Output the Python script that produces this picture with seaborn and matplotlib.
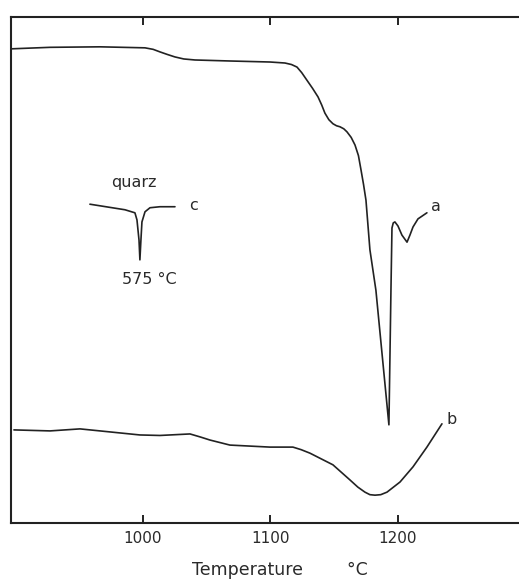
"""
DTA traces (hand-drawn style): curve a, curve b and the quartz reference c.
Saves out.png at 519x579 px.
"""

import matplotlib
matplotlib.use('Agg')
import matplotlib.pyplot as plt
import seaborn as sns
import pandas as pd

# ===== Data (temperature in °C, deflection in arbitrary units 0-100) =====
temp_a = [896.5, 927.1, 966.3, 1001.6, 1008.0, 1013.3, 1019.0, 1025.1, 1032.0,
          1040.8, 1068.2, 1099.6, 1111.4, 1116.5, 1120.8, 1124.5, 1128.6,
          1133.0, 1137.3, 1140.2, 1142.7, 1145.8, 1149.0, 1151.8, 1154.5,
          1157.5, 1160.0, 1163.3, 1166.3, 1169.0, 1171.0, 1173.0, 1174.9,
          1178.0, 1182.7, 1192.9, 1194.5, 1195.3, 1196.3, 1197.6, 1200.0,
          1203.1, 1207.1, 1209.4, 1211.8, 1215.7, 1222.7]
dta_a = [93.7, 94.0, 94.1, 93.9, 93.6, 93.1, 92.6, 92.1, 91.7,
         91.5, 91.3, 91.1, 90.9, 90.6, 90.1, 89.0, 87.5,
         85.9, 84.2, 82.6, 81.0, 79.7, 78.9, 78.5, 78.3,
         77.9, 77.3, 76.2, 74.7, 72.6, 69.8, 66.9, 63.8,
         54.0, 46.0, 19.4, 46.0, 58.3, 59.3, 59.5, 58.7,
         56.9, 55.5, 56.9, 58.5, 60.1, 61.3]

temp_b = [898.8, 927.1, 950.6, 966.3, 997.6, 1013.3, 1036.9, 1045.0, 1052.5,
          1068.2, 1099.6, 1117.6, 1124.0, 1131.0, 1149.0, 1162.4, 1168.5,
          1174.1, 1178.0, 1182.0, 1186.5, 1191.4, 1201.6, 1211.8, 1222.7,
          1234.5]
dta_b = [18.4, 18.2, 18.6, 18.2, 17.4, 17.3, 17.6, 17.0, 16.4,
         15.4, 15.0, 15.0, 14.5, 13.8, 11.5, 8.5, 7.1,
         6.1, 5.6, 5.5, 5.6, 6.1, 8.1, 11.1, 15.0,
         19.6]

# quartz inversion trace, drawn as an inset on the same scale
temp_c = [958.4, 985.9, 993.7, 995.3, 996.9, 997.6, 998.4, 999.2, 1001.6,
          1005.5, 1013.3, 1025.1]
dta_c = [63.0, 61.9, 61.3, 59.9, 55.9, 52.0, 55.9, 59.5, 61.5,
         62.3, 62.5, 62.5]

x_ticks = [1000, 1100, 1200]

curves = pd.concat([
    pd.DataFrame({'T': temp_a, 'dta': dta_a, 'curve': 'a'}),
    pd.DataFrame({'T': temp_b, 'dta': dta_b, 'curve': 'b'}),
    pd.DataFrame({'T': temp_c, 'dta': dta_c, 'curve': 'c'}),
], ignore_index=True)

sns.set_style('white')
plt.rcParams['font.family'] = ['DejaVu Sans']

INK = '#222222'
TXT = dict(fontsize=11.5, color='#2a2a2a')

fig = plt.figure(figsize=(5.19, 5.79), dpi=100)
# box runs off the right edge of the sheet, as in the scan
ax = fig.add_axes([11 / 519, 0.0967, 522 / 519, 0.874])

for name, grp in curves.groupby('curve'):
    sns.lineplot(data=grp, x='T', y='dta', sort=False, estimator=None,
                 color=INK, linewidth=1.2, ax=ax)

ax.set_xlim(896.5, 896.5 + 522 / 1.275)
ax.set_ylim(0, 100)

# labels beside the curves
ax.text(1226, 62.5, 'a', va='center', **TXT)
ax.text(1238, 20.5, 'b', va='center', **TXT)
ax.text(1036, 62.7, 'c', va='center', **TXT)
ax.text(993, 67.3, 'quarz', ha='center', va='center', **TXT)
ax.text(1005, 48.2, '575 °C', ha='center', va='center', **TXT)

ax.set_xticks(x_ticks)
ax.set_xticklabels([str(t) for t in x_ticks])
ax.set_yticks([])
ax.tick_params(axis='x', direction='in', length=6, width=1.4, top=True,
               bottom=True, labelsize=11, pad=6, colors=INK,
               labelcolor='#2a2a2a')
ax.set_xlabel('Temperature        °C', fontsize=12.5, color='#2a2a2a')
ax.xaxis.set_label_coords(0.515, -0.075)
ax.set_ylabel('')

for side in ['left', 'right', 'top', 'bottom']:
    ax.spines[side].set_visible(True)
    ax.spines[side].set_color(INK)
    ax.spines[side].set_linewidth(1.5)

fig.savefig('out.png', dpi=100)
plt.close(fig)
